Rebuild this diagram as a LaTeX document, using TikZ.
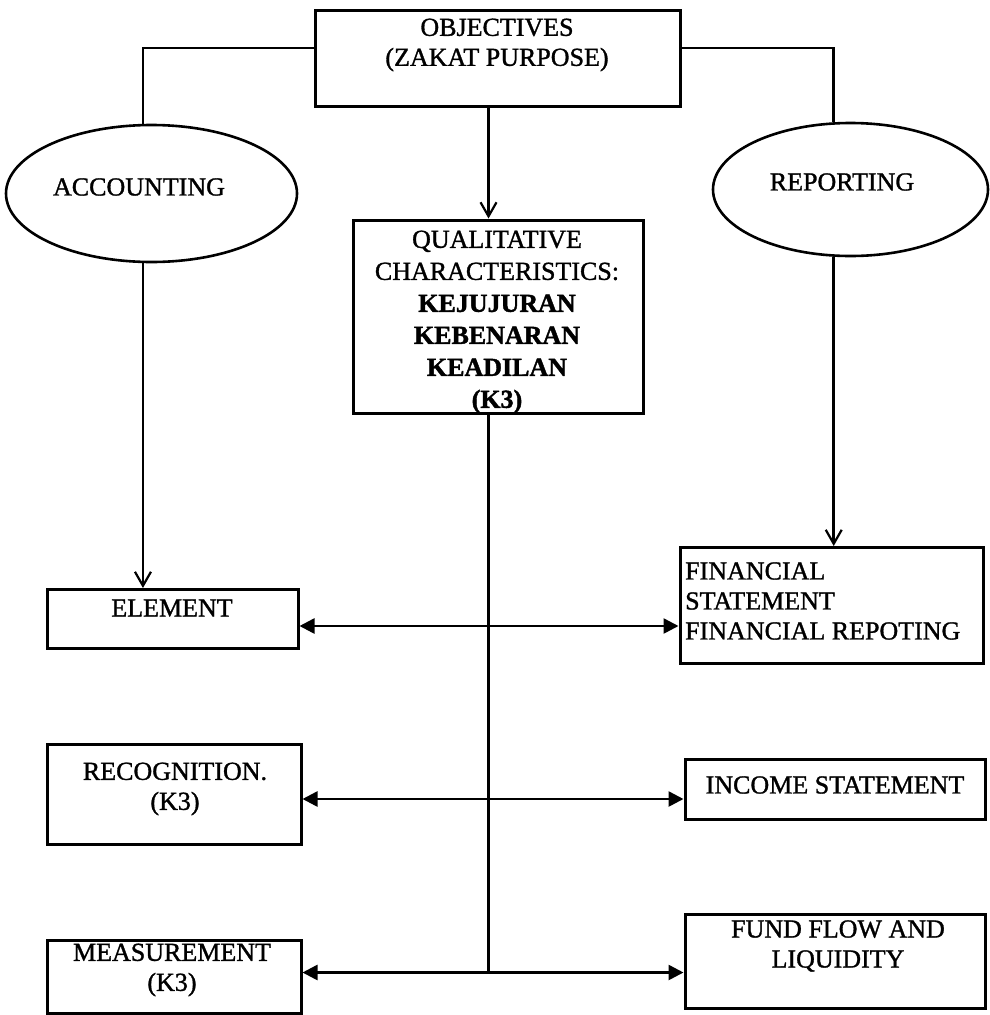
\documentclass[tikz,border=0pt]{standalone}
\usepackage{fontspec}
\setmainfont{Liberation Serif}[UprightFeatures={FakeBold=1.2},BoldFeatures={FakeBold=1.5}]
\usetikzlibrary{shapes.geometric,arrows.meta,calc}
\begin{document}
\begin{tikzpicture}[x=1pt,y=-1pt,
  box/.style={draw,line width=3pt,rectangle,inner sep=0pt},
  oval/.style={draw,line width=2.6pt,ellipse,inner sep=0pt},
  txt/.style={font=\fontsize{26}{30}\selectfont,align=center,inner sep=0pt},
  conn/.style={line width=2.6pt},
  down/.style={conn,-{Straight Barb[length=14pt,width=16pt,line width=2.2pt]}},
  both/.style={conn,{Triangle[length=15pt,width=15pt]}-{Triangle[length=15pt,width=15pt]}}
]
\useasboundingbox[fill=white] (0,0) rectangle (989,1015);
% boxes
\node[box,minimum width=365pt,minimum height=96pt] (obj) at (497.5,58) {};
\node[txt] (objt) at (497,45) {OBJECTIVES\\(ZAKAT PURPOSE)};
\node[oval,minimum width=291pt,minimum height=137pt] (acc) at (151.5,193.5) {};
\node[txt] (acct) at (139,187) {ACCOUNTING};
\node[oval,minimum width=275pt,minimum height=133pt] (rep) at (850.5,189.5) {};
\node[txt] (rept) at (842,182) {REPORTING};
\node[box,minimum width=290pt,minimum height=193pt] (qual) at (498,316.5) {};
\node[txt,font=\fontsize{26}{32}\selectfont] (qualt) at (497,322) {QUALITATIVE\\CHARACTERISTICS:\\\textbf{KEJUJURAN}\\\textbf{KEBENARAN}\\\textbf{KEADILAN}\\\textbf{(K3)}};
\node[box,minimum width=251pt,minimum height=59pt] (elem) at (172.5,619) {};
\node[txt] (elemt) at (172,608) {ELEMENT};
\node[box,minimum width=303pt,minimum height=116pt] (fin) at (831.5,605.5) {};
\node[txt,align=left,anchor=west] (fint) at (685,601) {FINANCIAL\\STATEMENT\\FINANCIAL REPOTING};
\node[box,minimum width=254pt,minimum height=100pt] (rec) at (174,794) {};
\node[txt] (rect) at (175,789) {RECOGNITION.\\(K3)};
\node[box,minimum width=300pt,minimum height=60pt] (inc) at (835,789) {};
\node[txt] (inct) at (835,785) {INCOME STATEMENT};
\node[box,minimum width=254pt,minimum height=73pt] (meas) at (174,976.5) {};
\node[txt] (meast) at (172,970) {MEASUREMENT\\(K3)};
\node[box,minimum width=300pt,minimum height=94pt] (fund) at (835,961) {};
\node[txt] (fundt) at (838,946) {FUND FLOW AND\\LIQUIDITY};
% connectors
\coordinate (ax) at (488.5,0);
\draw[conn] ($(obj.west)+(0,-10)$) -| (acc.97);
\draw[conn] ($(obj.east)+(0,-10)$) -| (rep.104);
\draw[down] (obj.south -| ax) -- (qual.north -| ax);
\draw[down] (acc.263) -- (acc.263 |- elem.north);
\draw[down] (rep.256) -- (rep.256 |- fin.north);
\coordinate (j1) at ($(elem.east)+(0,7)$);
\coordinate (j2) at ($(rec.east)+(0,5)$);
\coordinate (j3) at ($(meas.east)+(0,-4)$);
\draw[conn] (qual.south -| ax) -- (j3 -| ax);
\draw[both] (j1) -- (j1 -| fin.west);
\draw[both] (j2) -- (j2 -| inc.west);
\draw[both] (j3) -- (j3 -| fund.west);
\end{tikzpicture}
\end{document}
